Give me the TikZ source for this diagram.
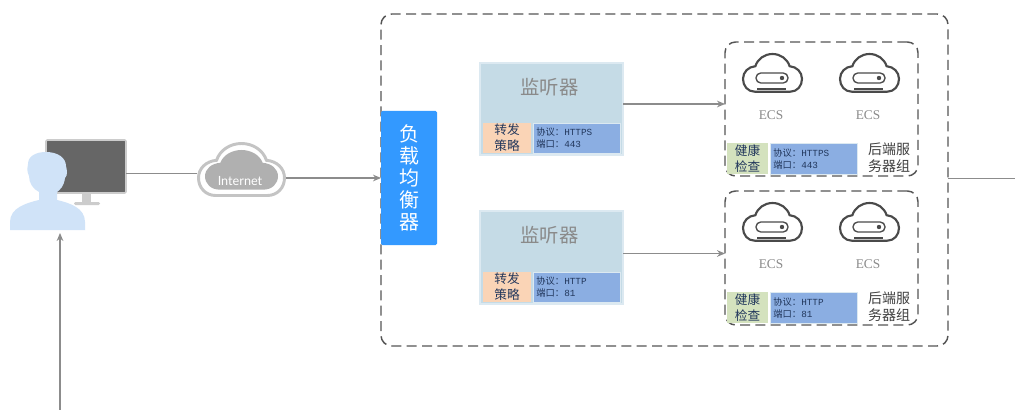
\documentclass[tikz,border=0pt]{standalone}
\usepackage{fontspec}
\setmainfont{Liberation Serif}
\newfontfamily\cjk{Noto Sans CJK SC}
\newfontfamily\latn{Lato}
\newfontfamily\mon{Liberation Mono}
\usetikzlibrary{arrows.meta}
\def\pxu{0.75pt}
\definecolor{dashgray}{HTML}{555555}
\definecolor{linegray}{HTML}{8C8C8C}
\definecolor{txtgray}{HTML}{8A8A8A}
\definecolor{lbblue}{HTML}{3399FF}
\definecolor{lisfill}{HTML}{C5DBE6}
\definecolor{lisedge}{HTML}{DCE9F1}
\definecolor{peach}{HTML}{FAD4B6}
\definecolor{protoblue}{HTML}{8BAEE2}
\definecolor{healthgreen}{HTML}{D4E2BE}
\definecolor{personblue}{HTML}{D0E3F8}
\definecolor{cloudgray}{HTML}{B0B0B0}
\definecolor{cloudedge}{HTML}{C4C4C4}
\definecolor{iconedge}{HTML}{4A4A4A}
\definecolor{darktxt}{HTML}{22375C}
\newcommand{\cloudshape}{(20,65) .. controls (8,65) and (0,55) .. (0,43) .. controls (0,31) and (9,22) .. (21,21) .. controls (25,8) and (37,0) .. (50,0) .. controls (63,0) and (75,8) .. (79,21) .. controls (91,22) and (100,31) .. (100,43) .. controls (100,55) and (92,65) .. (80,65) -- cycle}
\tikzset{
  x=0.75pt,y=-0.75pt,
  plain/.style={inner sep=0pt,outer sep=0pt,anchor=north west},
  sized/.style 2 args={plain,minimum width=#1*\pxu,minimum height=#2*\pxu},
  dashbox/.style={draw=dashgray,line width=1.1pt,rounded corners=8pt,dash pattern=on 7.5pt off 4pt},
  conn/.style={draw=linegray,line width=0.8pt},
  arr/.style={conn,-{Stealth[length=6pt,width=5pt]}},
  listbox/.style={fill=lisfill,draw=lisedge,line width=0.8pt},
  peachbox/.style={fill=peach},
  protobox/.style={fill=protoblue,draw=lisedge,line width=0.4pt},
  healthbox/.style={fill=healthgreen},
  smallcn/.style={font=\cjk\fontsize{9.5pt}{12pt}\selectfont,text=darktxt,align=center},
  prototxt/.style={font=\mon\fontsize{7pt}{9pt}\selectfont,text=darktxt,align=left,anchor=west,inner sep=0pt},
  grouptxt/.style={font=\cjk\fontsize{10.5pt}{13pt}\selectfont,text=black!75,align=center},
  ecstxt/.style={font=\fontsize{10pt}{12pt}\selectfont,text=txtgray},
  listtxt/.style={font=\cjk\fontsize{14.5pt}{18pt}\selectfont,text=txtgray},
  iconline/.style={draw=iconedge,line width=1pt},
  ecscloud/.pic={
    \begin{scope}[xscale=0.59,yscale=0.58]
      \draw[draw=iconedge,line width=1.6pt,fill=white] \cloudshape;
    \end{scope}
    \draw[iconline,rounded corners=3.6pt] (13,19) rectangle (45,29);
    \fill[iconedge] (39,24) circle (2.2);
    \draw[iconline] (14,35) -- (43,35);
  }
}
\begin{document}
\begin{tikzpicture}
\useasboundingbox (0,0) rectangle (1015,410);
\fill[white] (0,0) rectangle (1015,410);

% outer dashed frame
\node[sized={567}{332},dashbox] (outer) at (381,14) {};

% monitor
\node[sized={80}{53},fill=black!60,draw=black!20,line width=1.2pt,rounded corners=1pt] (monitor) at (46,140) {};
\fill[black!20] (82,194) rectangle (91,202);
\fill[black!20,rounded corners=1pt] (74,202) rectangle (100,205);

% person
\fill[personblue] (10,230) -- (10,222) .. controls (10,208) and (26,203) .. (39,200)
  -- (39,192) .. controls (33,189) and (29,183) .. (29,176) .. controls (26,170) and (28,166) .. (28,164)
  .. controls (28,156) and (36,152) .. (46,152) .. controls (58,152) and (66,158) .. (66,166)
  .. controls (67,170) and (68,175) .. (65,178) .. controls (64,186) and (60,190) .. (57,192)
  -- (57,200) .. controls (70,203) and (85,208) .. (85,222) -- (85,230) -- cycle;

% internet cloud
\node[sized={89}{55}] (inet) at (197,142) {};
\begin{scope}[shift={(198.5,143.5)},xscale=0.86,yscale=0.80]
  \draw[draw=cloudedge,line width=2.2pt,fill=white] \cloudshape;
\end{scope}
\begin{scope}[shift={(205,150)},xscale=0.73,yscale=0.61]
  \fill[cloudgray] \cloudshape;
\end{scope}
\node[font=\latn\fontsize{9.5pt}{11pt}\selectfont,text=white,inner sep=0pt] (inettxt) at (240,181) {Internet};

% load balancer
\node[sized={56}{134},fill=lbblue,rounded corners=1pt] (lb) at (381,111) {};
\node[font=\cjk\fontsize{15pt}{16.5pt}\selectfont,text=white,align=center,inner sep=0pt] (lbtxt) at (409,178) {负\\载\\均\\衡\\器};

% listeners
\node[sized={143}{92},listbox] (lisa) at (480,63) {};
\node[listtxt] (lisatxt) at (549.5,87) {监听器};
\node[sized={48}{30},peachbox,smallcn] (fwa) at (483,123) {转发\\策略};
\node[sized={87}{30},protobox] (pra) at (533,123) {};
\node[prototxt] (pratxt) at (536,138) {\cjk 协议：\mon HTTPS\\\cjk 端口：\mon 443};

\node[sized={143}{93},listbox] (lisb) at (480,211) {};
\node[listtxt] (lisbtxt) at (549.5,235) {监听器};
\node[sized={48}{30},peachbox,smallcn] (fwb) at (483,272) {转发\\策略};
\node[sized={87}{30},protobox] (prb) at (533,272) {};
\node[prototxt] (prbtxt) at (536,287) {\cjk 协议：\mon HTTP\\\cjk 端口：\mon 81};

% backend groups
\node[sized={193}{134},dashbox] (grpa) at (725,42) {};
\pic at (743,54) {ecscloud};
\pic at (840,54) {ecscloud};
\node[ecstxt] (ecsa) at (771,115) {ECS};
\node[ecstxt] (ecsb) at (868,115) {ECS};
\node[sized={41}{31},healthbox,smallcn] (hca) at (727,143) {健康\\检查};
\node[sized={87}{31},protobox] (hpa) at (770,143) {};
\node[prototxt] (hpatxt) at (773,159) {\cjk 协议：\mon HTTPS\\\cjk 端口：\mon 443};
\node[grouptxt] (gta) at (889,158) {后端服\\务器组};

\node[sized={193}{134},dashbox] (grpb) at (725,191) {};
\pic at (743,203) {ecscloud};
\pic at (840,203) {ecscloud};
\node[ecstxt] (ecsc) at (771,264) {ECS};
\node[ecstxt] (ecsd) at (868,264) {ECS};
\node[sized={41}{31},healthbox,smallcn] (hcb) at (727,292) {健康\\检查};
\node[sized={87}{31},protobox] (hpb) at (770,292) {};
\node[prototxt] (hpbtxt) at (773,308) {\cjk 协议：\mon HTTP\\\cjk 端口：\mon 81};
\node[grouptxt] (gtb) at (889,307) {后端服\\务器组};

% connectors
\coordinate (rightend) at (1015,178);
\coordinate (bottomend) at (60,410);
\coordinate (persontip) at (60,233);
\coordinate (mtail) at ([yshift=-7*\pxu]monitor.east);
\coordinate (lata) at ([yshift=5*\pxu]lisa.east);
\coordinate (latb) at ([yshift=4*\pxu]lisb.east);
\draw[conn] (mtail) -- (inet.west |- mtail);
\draw[arr] (inet.east |- lb.west) -- (lb.west);
\draw[arr] (lata) -- (grpa.west |- lata);
\draw[arr] (latb) -- (grpb.west |- latb);
\draw[conn,line width=0.6pt] (outer.east |- rightend) -- (rightend);
\draw[arr] (bottomend) -- (persontip);
\end{tikzpicture}
\end{document}
